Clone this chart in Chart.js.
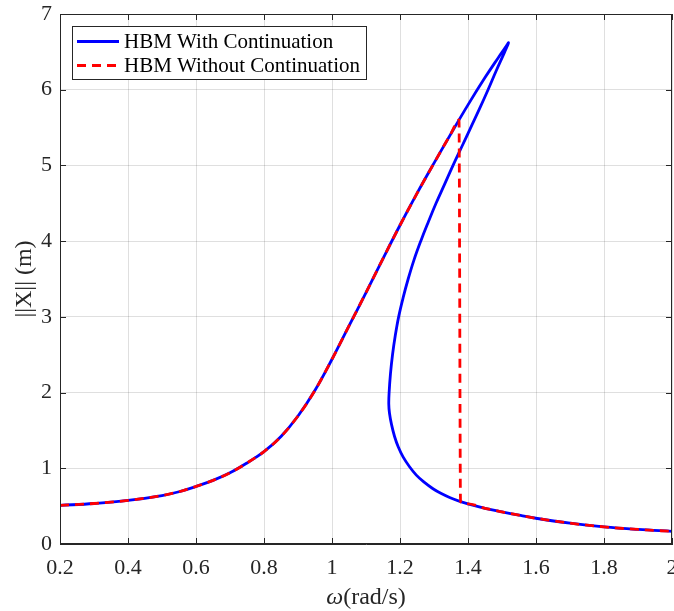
<!DOCTYPE html>
<html>
<head>
<meta charset="utf-8">
<script src="https://cdn.jsdelivr.net/npm/chart.js@4.4.1/dist/chart.umd.min.js"></script>
<style>
  html, body { margin: 0; padding: 0; background: #fff; }
  #wrap { width: 674px; height: 611px; }
</style>
</head>
<body>
<div id="wrap"><canvas id="frfChart" width="674" height="611"></canvas></div>
<script>
// frequency axis ticks and amplitude axis ticks
const xTicks = [0.2, 0.4, 0.6, 0.8, 1, 1.2, 1.4, 1.6, 1.8, 2];
const yTicks = [0, 1, 2, 3, 4, 5, 6, 7];

// HBM with continuation: full curve, going round the fold (omega, amplitude)
const contOmega = [0.2, 0.3, 0.4, 0.5, 0.55, 0.6, 0.65, 0.7, 0.75, 0.8, 0.85, 0.9, 0.95, 1.0, 1.05, 1.1, 1.15, 1.2, 1.25, 1.3, 1.35, 1.4, 1.45, 1.49, 1.51, 1.519,
    1.508, 1.483, 1.459, 1.434, 1.408, 1.382, 1.356, 1.331, 1.306, 1.283, 1.261, 1.241, 1.224, 1.209, 1.196, 1.186, 1.178, 1.172, 1.168, 1.167, 1.169, 1.175, 1.184, 1.195, 1.209, 1.228, 1.248, 1.27, 1.297, 1.32, 1.346, 1.378, 1.4, 1.45, 1.5, 1.55, 1.6, 1.7, 1.8, 1.9, 2.0];
const contAmp = [0.51, 0.535, 0.575, 0.64, 0.69, 0.76, 0.84, 0.94, 1.07, 1.22, 1.42, 1.69, 2.03, 2.44, 2.88, 3.32, 3.77, 4.21, 4.63, 5.03, 5.42, 5.8, 6.16, 6.43, 6.56, 6.62,
    6.5, 6.25, 6.0, 5.75, 5.5, 5.25, 5.0, 4.75, 4.5, 4.25, 4.0, 3.75, 3.5, 3.25, 3.0, 2.75, 2.5, 2.25, 2.0, 1.85, 1.73, 1.58, 1.42, 1.28, 1.15, 1.02, 0.91, 0.82, 0.73, 0.67, 0.615, 0.56, 0.53, 0.472, 0.424, 0.38, 0.34, 0.275, 0.226, 0.192, 0.167];

// HBM without continuation: upward sweep, with the jump down
const sweepOmega = [0.2, 0.3, 0.4, 0.5, 0.55, 0.6, 0.65, 0.7, 0.75, 0.8, 0.85, 0.9, 0.95, 1.0, 1.05, 1.1, 1.15, 1.2, 1.25, 1.3, 1.35, 1.3735, 1.378, 1.4, 1.45, 1.5, 1.55, 1.6, 1.7, 1.8, 1.9, 2.0];
const sweepAmp = [0.51, 0.535, 0.575, 0.64, 0.69, 0.76, 0.84, 0.94, 1.07, 1.22, 1.42, 1.69, 2.03, 2.44, 2.88, 3.32, 3.77, 4.21, 4.63, 5.03, 5.42, 5.6, 0.56, 0.53, 0.472, 0.424, 0.38, 0.34, 0.275, 0.226, 0.192, 0.167];

const seriesLabels = ['HBM With Continuation', 'HBM Without Continuation'];

function toPoints(xs, ys) {
    return xs.map(function (x, i) { return { x: x, y: ys[i] }; });
}

const axisColor = '#262626';
const gridColor = 'rgba(38,38,38,0.15)';
const serif = '"Liberation Serif", "Times New Roman", serif';

// box on all four sides, inward tick marks, legend and x title (MATLAB look)
const matlabFrame = {
    id: 'matlabFrame',
    afterDraw: function (chart) {
        const ctx = chart.ctx;
        const a = chart.chartArea;
        const xs = chart.scales.x, ys = chart.scales.y;
        ctx.save();
        ctx.strokeStyle = axisColor;
        ctx.lineWidth = 1;
        ctx.strokeRect(a.left + 0.5, a.top + 0.5, a.right - a.left - 1, a.bottom - a.top - 1);
        const tl = 6;
        ctx.beginPath();
        xTicks.forEach(function (t) {
            const px = Math.round(xs.getPixelForValue(t)) + 0.5;
            ctx.moveTo(px, a.bottom); ctx.lineTo(px, a.bottom - tl);
            ctx.moveTo(px, a.top); ctx.lineTo(px, a.top + tl);
        });
        yTicks.forEach(function (t) {
            const py = Math.round(ys.getPixelForValue(t)) + 0.5;
            ctx.moveTo(a.left, py); ctx.lineTo(a.left + tl, py);
            ctx.moveTo(a.right, py); ctx.lineTo(a.right - tl, py);
        });
        ctx.stroke();

        // legend
        const lx = Math.round(a.left + 12), ly = Math.round(a.top + 12), lw = 294, lh = 53;
        ctx.fillStyle = '#fff';
        ctx.fillRect(lx, ly, lw, lh);
        ctx.strokeStyle = axisColor;
        ctx.strokeRect(lx + 0.5, ly + 0.5, lw, lh);
        ctx.font = '21px ' + serif;
        ctx.textBaseline = 'middle';
        chart.data.datasets.forEach(function (ds, i) {
            const ry = ly + 15.5 + i * 24;
            ctx.strokeStyle = ds.borderColor;
            ctx.lineWidth = ds.borderWidth;
            ctx.setLineDash(ds.borderDash || []);
            ctx.beginPath();
            ctx.moveTo(lx + 5, ry); ctx.lineTo(lx + 47, ry);
            ctx.stroke();
            ctx.setLineDash([]);
            ctx.fillStyle = '#000';
            ctx.fillText(ds.label, lx + 52, ry + 1);
        });

        // x axis title with italic omega
        const cx = (a.left + a.right) / 2;
        const ty = chart.height - 13;
        ctx.font = 'italic 24px ' + serif;
        const w1 = ctx.measureText('ω').width;
        ctx.font = '24px ' + serif;
        const w2 = ctx.measureText('(rad/s)').width;
        const sx = cx - (w1 + w2) / 2;
        ctx.fillStyle = '#262626';
        ctx.textAlign = 'left';
        ctx.font = 'italic 24px ' + serif;
        ctx.fillText('ω', sx, ty);
        ctx.font = '24px ' + serif;
        ctx.fillText('(rad/s)', sx + w1, ty);
        ctx.restore();
    }
};

const ctx = document.getElementById('frfChart').getContext('2d');

new Chart(ctx, {
    type: 'scatter',
    data: {
        datasets: [{
            label: seriesLabels[0],
            data: toPoints(contOmega, contAmp),
            showLine: true,
            borderColor: '#0000ff',
            borderWidth: 2.8,
            borderCapStyle: 'round',
            borderJoinStyle: 'round',
            pointRadius: 0,
            tension: 0.4,
            order: 1
        }, {
            label: seriesLabels[1],
            data: toPoints(sweepOmega, sweepAmp),
            showLine: true,
            borderColor: '#ff0000',
            borderWidth: 2.8,
            borderDash: [9, 6],
            cubicInterpolationMode: 'monotone',
            pointRadius: 0,
            order: 0
        }]
    },
    options: {
        responsive: false,
        animation: false,
        layout: { padding: { top: 14, right: 2, left: 0, bottom: 0 } },
        plugins: {
            legend: { display: false },
            tooltip: { enabled: false }
        },
        scales: {
            x: {
                type: 'linear',
                min: 0.2,
                max: 2,
                afterBuildTicks: function (scale) {
                    scale.ticks = xTicks.map(function (v) { return { value: v }; });
                },
                afterFit: function (scale) {
                    scale.height = 67;
                    scale.paddingLeft = 0;
                    scale.paddingRight = 0;
                },
                grid: { color: gridColor, drawTicks: false },
                border: { color: axisColor },
                ticks: {
                    color: '#262626',
                    padding: 11,
                    maxRotation: 0,
                    font: { family: serif, size: 22 },
                    callback: function (v) { return String(v); }
                }
            },
            y: {
                type: 'linear',
                min: 0,
                max: 7,
                afterBuildTicks: function (scale) {
                    scale.ticks = yTicks.map(function (v) { return { value: v }; });
                },
                afterFit: function (scale) {
                    scale.width = 60;
                    scale.paddingTop = 0;
                    scale.paddingBottom = 0;
                },
                grid: { color: gridColor, drawTicks: false },
                border: { color: axisColor },
                ticks: {
                    color: '#262626',
                    padding: 8,
                    font: { family: serif, size: 22 },
                    callback: function (v) { return String(v); }
                },
                title: {
                    display: true,
                    text: '||X|| (m)',
                    color: '#262626',
                    padding: { top: 10, bottom: 0 },
                    font: { family: serif, size: 24 }
                }
            }
        }
    },
    plugins: [matlabFrame]
});
</script>
</body>
</html>
